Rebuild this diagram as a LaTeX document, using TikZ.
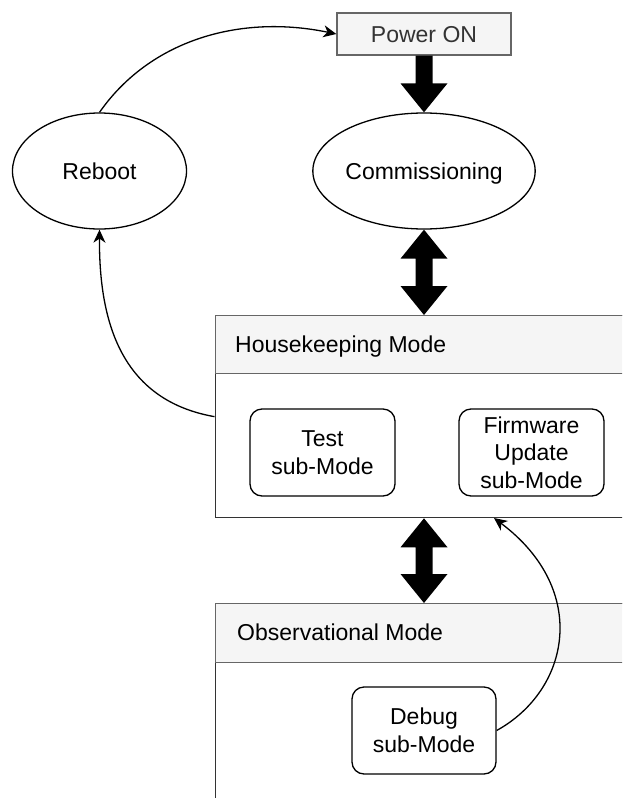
\documentclass[tikz,border=0pt]{standalone}
\usepackage{fontspec}
\setmainfont{Liberation Sans}
\usetikzlibrary{shapes.geometric,arrows.meta,calc}
\definecolor{hdrfill}{HTML}{F5F5F5}
\definecolor{edgegray}{HTML}{666666}
\definecolor{txtgray}{HTML}{333333}

% thick single block arrow pointing down from #1 to #2
\newcommand{\blkdown}[2]{%
  \fill let \p1=(#1), \p2=(#2) in
    (\x1-8.5pt,\y1) -- (\x1+8.5pt,\y1) -- (\x1+8.5pt,\y2+29pt) --
    (\x1+23.5pt,\y2+29pt) -- (\x1,\y2) -- (\x1-23.5pt,\y2+29pt) --
    (\x1-8.5pt,\y2+29pt) -- cycle;}
% thick double-headed block arrow between #1 (top) and #2 (bottom)
\newcommand{\blkdbl}[2]{%
  \fill let \p1=(#1), \p2=(#2) in
    (\x1,\y1) -- (\x1+23.5pt,\y1-29pt) -- (\x1+8.5pt,\y1-29pt) --
    (\x1+8.5pt,\y2+29pt) -- (\x1+23.5pt,\y2+29pt) -- (\x1,\y2) --
    (\x1-23.5pt,\y2+29pt) -- (\x1-8.5pt,\y2+29pt) --
    (\x1-8.5pt,\y1-29pt) -- (\x1-23.5pt,\y1-29pt) -- cycle;}

\begin{document}
\begin{tikzpicture}[x=1pt,y=-1pt,
  font=\fontsize{23}{27.5}\selectfont,
  state/.style={ellipse, draw, line width=1.3pt, minimum width=174pt,
    minimum height=116pt, inner sep=0pt, text height=16.5pt, text depth=0pt},
  startbox/.style={rectangle, draw=edgegray, fill=hdrfill, line width=1.3pt,
    minimum width=174pt, minimum height=42pt, text=txtgray, inner sep=0pt,
    text height=16.5pt, text depth=0pt},
  container/.style={rectangle, draw=black!80, line width=1.3pt,
    anchor=north west, inner sep=0pt, minimum width=430pt},
  header/.style={rectangle, draw=edgegray, fill=hdrfill, line width=1.3pt,
    anchor=north west, inner sep=0pt, minimum width=430pt, minimum height=58pt},
  title/.style={anchor=base west, inner sep=0pt},
  submode/.style={rectangle, rounded corners=12pt, draw, line width=1.3pt,
    minimum width=145pt, minimum height=87pt, align=center, inner sep=0pt},
  conn/.style={line width=1.3pt, -{Stealth[length=13pt,width=12pt,inset=4pt]}}
]
\useasboundingbox (0,0) rectangle (622,798);
\clip (0,0) rectangle (622,798);
\fill[white] (0,0) rectangle (622,798);

% top states
\node[startbox] (power) at (424,34) {Power ON};
\node[state] (comm) at (424,171) {Commissioning};
\node[state] (reboot) at (99.5,171) {Reboot};

% housekeeping container
\node[container, minimum height=202pt] (hk) at (214.5,315) {};
\node[header] (hkhead) at (hk.north west) {};
\node[title] (hktitle) at (235,352) {Housekeeping Mode};
\node[submode] (test) at (322.5,452.5) {Test\\sub-Mode};
\node[submode] (fw) at (531.5,452.5) {Firmware\\Update\\sub-Mode};

% observational container
\node[container, minimum height=230pt] (obs) at (214.5,603) {};
\node[header, minimum height=59pt] (obshead) at (obs.north west) {};
\node[title] (obstitle) at (237,640) {Observational Mode};
\node[submode, minimum width=144pt] (debug) at (424,730.5) {Debug\\sub-Mode};

% block arrows
\blkdown{power.south}{comm.north}
\blkdbl{comm.south}{hk.north -| comm.south}
\blkdbl{hk.south -| comm.south}{obs.north -| comm.south}

% transitions
\draw[conn] (reboot.north) .. controls (150,40) and (240,14) .. (power.west);
\draw[conn] (hk.west) .. controls (120,400) and (99,320) .. (reboot.south);
\coordinate (fwin) at (494,518);
\draw[conn] (debug.east) .. controls (570,690) and (590,590) .. (fwin);
\end{tikzpicture}
\end{document}
